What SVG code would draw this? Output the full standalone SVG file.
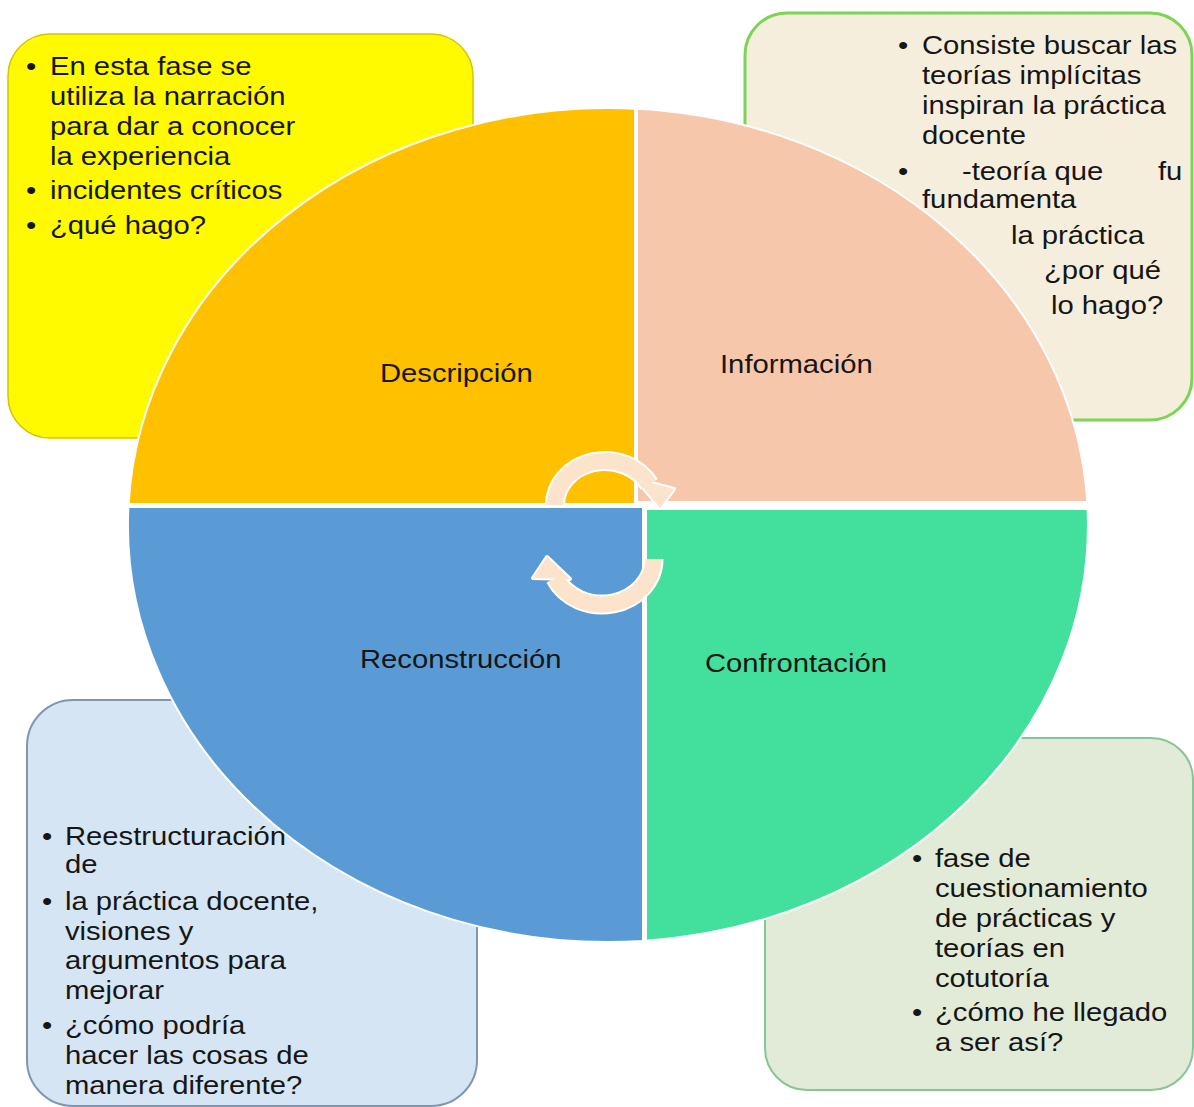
<svg xmlns="http://www.w3.org/2000/svg" width="1194" height="1107" viewBox="0 0 1194 1107">
  <style>
    .t { font-family: "Liberation Sans", Arial, sans-serif; font-size: 25px; fill: #161616; }
    .q { stroke: #ffffff; stroke-width: 2; }
    .arrowOutline { fill: none; stroke: #ffffff; stroke-width: 20; }
    .arrowBody { fill: none; stroke: #FCE3CB; stroke-width: 16; }
    .headOutline { fill: #ffffff; stroke: #ffffff; stroke-width: 4; stroke-linejoin: round; }
    .headBody { fill: #FCE3CB; }
  </style>
  <rect x="0" y="0" width="1194" height="1107" fill="#ffffff"/>

  <!-- Text boxes -->
  <g id="box-descripcion">
    <rect x="8" y="34" width="465" height="404" rx="42" ry="42" fill="#FFFA00" stroke="#D9C200" stroke-width="1.5"/>
    <text class="t" transform="translate(26,75) scale(1.17,1)">•</text>
    <text class="t" transform="translate(50,75) scale(1.17,1)">En esta fase se</text>
    <text class="t" transform="translate(50,105) scale(1.17,1)">utiliza la narración</text>
    <text class="t" transform="translate(50,135) scale(1.17,1)">para dar a conocer</text>
    <text class="t" transform="translate(50,165) scale(1.17,1)">la experiencia</text>
    <text class="t" transform="translate(26,199) scale(1.17,1)">•</text>
    <text class="t" transform="translate(50,199) scale(1.17,1)">incidentes críticos</text>
    <text class="t" transform="translate(26,234) scale(1.17,1)">•</text>
    <text class="t" transform="translate(50,234) scale(1.17,1)">¿qué hago?</text>
  </g>

  <g id="box-informacion">
    <rect x="745" y="13" width="447" height="407" rx="42" ry="42" fill="#F6EEDC" stroke="#7CD455" stroke-width="3"/>
    <text class="t" transform="translate(898,54) scale(1.17,1)">•</text>
    <text class="t" transform="translate(922,54) scale(1.17,1)">Consiste buscar las</text>
    <text class="t" transform="translate(922,84) scale(1.17,1)">teorías implícitas</text>
    <text class="t" transform="translate(922,114) scale(1.17,1)">inspiran la práctica</text>
    <text class="t" transform="translate(922,144) scale(1.17,1)">docente</text>
    <text class="t" transform="translate(898,180) scale(1.17,1)">•</text>
    <text class="t" transform="translate(962,180) scale(1.17,1)">-teoría que</text>
    <text class="t" transform="translate(1158,180) scale(1.17,1)">fu</text>
    <text class="t" transform="translate(922,208) scale(1.17,1)">fundamenta</text>
    <text class="t" transform="translate(1011,244) scale(1.17,1)">la práctica</text>
    <text class="t" transform="translate(1044,279) scale(1.17,1)">¿por qué</text>
    <text class="t" transform="translate(1051,314) scale(1.17,1)">lo hago?</text>
  </g>

  <g id="box-reconstruccion">
    <rect x="27" y="700" width="450" height="406" rx="46" ry="46" fill="#D5E5F3" stroke="#7F96B0" stroke-width="2"/>
    <text class="t" transform="translate(42,845) scale(1.17,1)">•</text>
    <text class="t" transform="translate(65,845) scale(1.17,1)">Reestructuración</text>
    <text class="t" transform="translate(65,873) scale(1.17,1)">de</text>
    <text class="t" transform="translate(42,910) scale(1.17,1)">•</text>
    <text class="t" transform="translate(65,910) scale(1.17,1)">la práctica docente,</text>
    <text class="t" transform="translate(65,940) scale(1.17,1)">visiones y</text>
    <text class="t" transform="translate(65,969) scale(1.17,1)">argumentos para</text>
    <text class="t" transform="translate(65,999) scale(1.17,1)">mejorar</text>
    <text class="t" transform="translate(42,1034) scale(1.17,1)">•</text>
    <text class="t" transform="translate(65,1034) scale(1.17,1)">¿cómo podría</text>
    <text class="t" transform="translate(65,1064) scale(1.17,1)">hacer las cosas de</text>
    <text class="t" transform="translate(65,1094) scale(1.17,1)">manera diferente?</text>
  </g>

  <g id="box-confrontacion">
    <rect x="765" y="738" width="428" height="352" rx="42" ry="42" fill="#E2EBD7" stroke="#86C596" stroke-width="2"/>
    <text class="t" transform="translate(912,867) scale(1.17,1)">•</text>
    <text class="t" transform="translate(935,867) scale(1.17,1)">fase de</text>
    <text class="t" transform="translate(935,897) scale(1.17,1)">cuestionamiento</text>
    <text class="t" transform="translate(935,927) scale(1.17,1)">de prácticas y</text>
    <text class="t" transform="translate(935,957) scale(1.17,1)">teorías en</text>
    <text class="t" transform="translate(935,987) scale(1.17,1)">cotutoría</text>
    <text class="t" transform="translate(912,1021) scale(1.17,1)">•</text>
    <text class="t" transform="translate(935,1021) scale(1.17,1)">¿cómo he llegado</text>
    <text class="t" transform="translate(935,1051) scale(1.17,1)">a ser así?</text>
  </g>

  <!-- Quadrants -->
  <g id="quad-descripcion">
    <path class="q" d="M635,504 L128.6,504 A480,417 0 0,1 635,108.7 Z" fill="#FFC000"/>
    <text class="t" transform="translate(380,382) scale(1.17,1)">Descripción</text>
  </g>
  <g id="quad-informacion">
    <path class="q" d="M637,502 L637,108.8 A480,417 0 0,1 1087.3,502 Z" fill="#F6C7AA"/>
    <text class="t" transform="translate(720,373) scale(1.17,1)">Información</text>
  </g>
  <g id="quad-reconstruccion">
    <path class="q" d="M643,507 L643,940.9 A480,417 0 0,1 128.4,507 Z" fill="#5B9BD5"/>
    <text class="t" transform="translate(360,668) scale(1.17,1)">Reconstrucción</text>
  </g>
  <g id="quad-confrontacion">
    <path class="q" d="M646,509 L1087.6,509 A480,417 0 0,1 646,940.7 Z" fill="#43E09D"/>
    <text class="t" transform="translate(705,672) scale(1.17,1)">Confrontación</text>
  </g>

  <!-- Cycle arrows -->
  <g id="connectors">
    <path class="arrowOutline" d="M555,505 A50,44 0 0,1 649.1,484.3"/>
    <polygon class="headOutline" points="636,479 674,489 660,508"/>
    <path class="arrowOutline" d="M653.5,559 A51.5,45.5 0 0,1 555.3,578.2"/>
    <polygon class="headOutline" points="547,557 533,578 570,579"/>
    <path class="arrowBody" d="M555,505 A50,44 0 0,1 649.1,484.3"/>
    <polygon class="headBody" points="636,479 674,489 660,508"/>
    <path class="arrowBody" d="M653.5,559 A51.5,45.5 0 0,1 555.3,578.2"/>
    <polygon class="headBody" points="547,557 533,578 570,579"/>
  </g>
</svg>
